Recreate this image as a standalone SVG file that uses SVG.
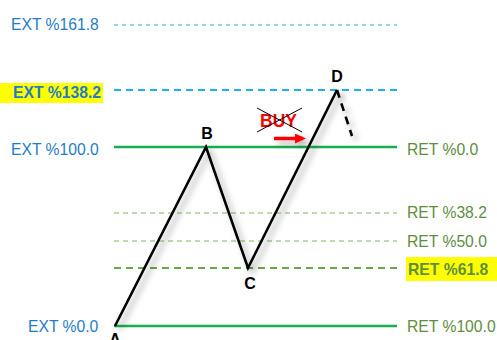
<svg xmlns="http://www.w3.org/2000/svg" width="497" height="340" viewBox="0 0 497 340">
<style>
.ext{font-family:"Liberation Sans",Arial,sans-serif;font-size:15.7px;fill:#1f7dc6}
.ret{font-family:"Liberation Sans",Arial,sans-serif;font-size:15.7px;fill:#5e8e3e}
.pt{font-family:"Liberation Sans",Arial,sans-serif;font-size:16px;font-weight:bold;fill:#000;text-anchor:middle}
.b{font-weight:bold}
.zz{fill:none;stroke:#000;stroke-width:2.6;stroke-linejoin:miter;filter:url(#sh)}
</style>
<defs>
<filter id="sh" filterUnits="userSpaceOnUse" x="0" y="0" width="497" height="340">
<feDropShadow dx="4" dy="4" stdDeviation="3" flood-color="#000" flood-opacity="0.35"/>
</filter>
<marker id="ar" markerWidth="11" markerHeight="10" refX="8" refY="5" orient="auto" markerUnits="userSpaceOnUse" viewBox="0 0 11 10">
<path d="M0,0 L11,5 L0,10 z" fill="#ff0000"/>
</marker>
</defs>
<g id="levels">
<line x1="114" y1="25" x2="397" y2="25" stroke="#2aaee6" stroke-width="1" stroke-dasharray="4,4"/>
<line x1="114" y1="90" x2="397" y2="90" stroke="#1cb2ee" stroke-width="2" stroke-dasharray="7,5"/>
<line x1="114" y1="147" x2="397" y2="147" stroke="#17b04e" stroke-width="2.5"/>
<line x1="114" y1="213" x2="397" y2="213" stroke="#7fb75c" stroke-width="1.2" stroke-dasharray="5,4"/>
<line x1="114" y1="241" x2="397" y2="241" stroke="#7fb75c" stroke-width="1.2" stroke-dasharray="5,4"/>
<line x1="114" y1="268" x2="397" y2="268" stroke="#6aa844" stroke-width="1.8" stroke-dasharray="7,5"/>
<line x1="114" y1="326" x2="397" y2="326" stroke="#17b04e" stroke-width="2.5"/>
</g>
<g id="left-labels">
<text class="ext" x="11" y="30">EXT %161.8</text>
<rect x="0" y="83" width="103" height="20" fill="#ffff00"/>
<text class="ext b" x="13" y="98">EXT %138.2</text>
<text class="ext" x="11" y="155">EXT %100.0</text>
<text class="ext" x="28" y="332">EXT %0.0</text>
</g>
<g id="right-labels">
<text class="ret" x="407" y="155">RET %0.0</text>
<text class="ret" x="407" y="218">RET %38.2</text>
<text class="ret" x="407" y="247">RET %50.0</text>
<rect x="406" y="257" width="91" height="24" fill="#ffff00"/>
<text class="ret b" x="408" y="275">RET %61.8</text>
<text class="ret" x="407" y="332">RET %100.0</text>
</g>
<g id="connectors">
<polyline class="zz" points="115,326 206,147 248,268 337,90"/>
<line x1="337" y1="90" x2="352" y2="136" stroke="#000" stroke-width="2.6" stroke-dasharray="8,6" filter="url(#sh)"/>
<line x1="274" y1="138.5" x2="303" y2="138.5" stroke="#ff0000" stroke-width="3.5" marker-end="url(#ar)" filter="url(#sh)"/>
</g>
<g id="A"><text class="pt" x="115" y="345">A</text></g>
<g id="B"><text class="pt" x="207" y="139">B</text></g>
<g id="C"><text class="pt" x="250" y="289">C</text></g>
<g id="D"><text class="pt" x="337" y="82">D</text></g>
<g id="buy">
<text x="260" y="127" font-family="Liberation Sans,Arial,sans-serif" font-size="17.5" font-weight="bold" fill="#ff0000">BUY</text>
<line x1="257" y1="108" x2="302" y2="132" stroke="#000" stroke-width="1"/>
<line x1="257" y1="132" x2="302" y2="108" stroke="#000" stroke-width="1"/>
</g>
</svg>
